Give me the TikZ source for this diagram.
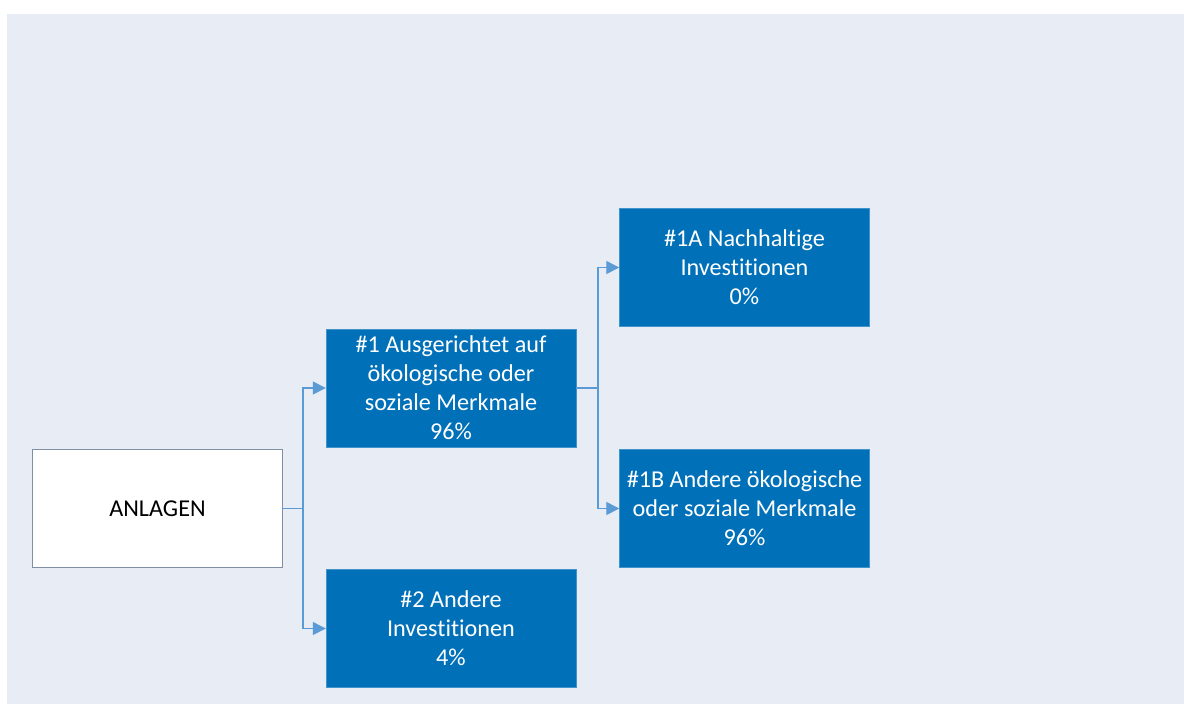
\documentclass[tikz,border=0pt]{standalone}
\usepackage{fontspec}
\setmainfont{Carlito}[Ligatures = NoCommon]
\usetikzlibrary{arrows.meta}
\definecolor{bgblue}{HTML}{E8ECF5}
\definecolor{boxblue}{HTML}{0070B8}
\definecolor{linkblue}{HTML}{5B9BD5}
\definecolor{frame}{HTML}{7F8FA6}
\tikzset{>={Triangle[length=13pt,width=13pt]}}

\begin{document}
\begin{tikzpicture}[x = 1pt, y = -1pt, font = {\fontsize{24.2pt}{29pt}\selectfont},
  box/.style = {rectangle, fill = boxblue, draw = boxblue!75!white, text = white,
    minimum width = 250pt, minimum height = 118pt, align = center, inner sep = 0pt},
  link/.style = {linkblue, line width = 1.3pt}]
\useasboundingbox (0,0) rectangle (1184,704);
\fill[bgblue] (7,14) rectangle (1184,704);

\node[box, fill = white, draw = frame, text = black] (ANL) at (157.5, 508.5) {ANLAGEN};
\node[box] (ESG) at (451, 388) {\#1 Ausgerichtet auf \\ ökologische oder \\ soziale Merkmale \\ 96\%};
\node[box] (OTH) at (451, 628.5) {\#2 Andere \\ Investitionen \\ 4\%};
\node[box] (SUS) at (744.5, 267.5) {\#1A Nachhaltige \\ Investitionen \\ 0\%};
\node[box] (CHR) at (744.5, 508.5) {\#1B Andere ökologische \\ oder soziale Merkmale \\ 96\%};

% elbow joints
\coordinate (J1) at (303, 508.5);
\coordinate (J2) at (598, 388);

\draw[link] (ANL.east) -- (J1);
\draw[link, ->] (J1) |- (ESG.west);
\draw[link, ->] (J1) |- (OTH.west);

\draw[link] (ESG.east) -- (J2);
\draw[link, ->] (J2) |- (SUS.west);
\draw[link, ->] (J2) |- (CHR.west);
\end{tikzpicture}
\end{document}
